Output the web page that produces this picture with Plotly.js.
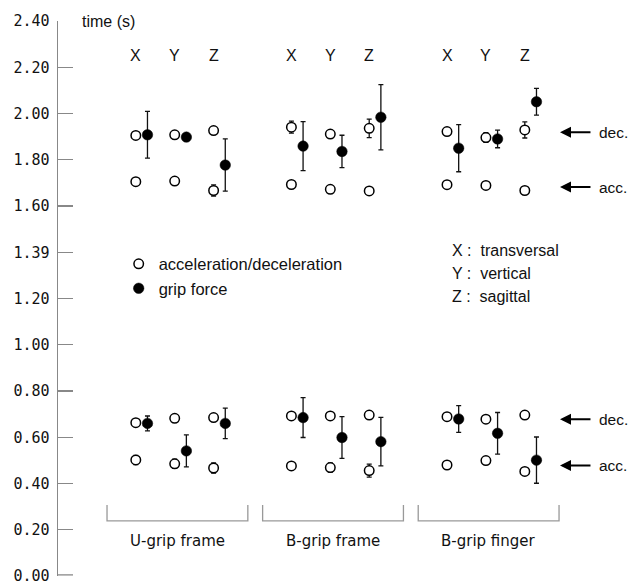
<!DOCTYPE html>
<html>
<head>
<meta charset="utf-8">
<script src="https://cdn.plot.ly/plotly-3.0.1.min.js"></script>
<style>html,body{margin:0;padding:0;background:#fff;}#chart{width:630px;height:585px;}</style>
</head>
<body>
<div id="chart"></div>
<script>
// ---- data ----
const groups = ['U-grip frame', 'B-grip frame', 'B-grip finger'];
const directions = ['X', 'Y', 'Z'];
const directionNames = ['transversal', 'vertical', 'sagittal'];
const yTickVals = [0, 0.2, 0.4, 0.6, 0.8, 1.0, 1.2, 1.4, 1.6, 1.8, 2.0, 2.2, 2.4];
const yTickText = ['0.00', '0.20', '0.40', '0.60', '0.80', '1.00', '1.20', '1.39', '1.60', '1.80', '2.00', '2.20', '2.40'];

// order: U(X,Y,Z), B-frame(X,Y,Z), B-finger(X,Y,Z)
// upper block
const decTop      = [1.905, 1.908, 1.926, 1.941, 1.911, 1.936, 1.922, 1.896, 1.929];
const decTopErr   = [0.014, 0.014, 0.010, 0.026, 0.008, 0.040, 0.006, 0.021, 0.035];
const accTop      = [1.705, 1.708, 1.667, 1.693, 1.672, 1.665, 1.692, 1.689, 1.667];
const accTopErr   = [0.005, 0.005, 0.024, 0.008, 0.010, 0.005, 0.006, 0.005, 0.006];
const gripTop     = [1.908, 1.898, 1.777, 1.859, 1.836, 1.984, 1.850, 1.890, 2.051];
const gripTopErr  = [0.101, 0.012, 0.113, 0.106, 0.070, 0.141, 0.102, 0.038, 0.058];
// lower block
const decBot      = [0.663, 0.682, 0.685, 0.692, 0.692, 0.696, 0.689, 0.678, 0.696];
const decBotErr   = [0.012, 0.005, 0.015, 0.005, 0.005, 0.005, 0.010, 0.005, 0.010];
const accBot      = [0.502, 0.485, 0.467, 0.476, 0.469, 0.456, 0.480, 0.499, 0.452];
const accBotErr   = [0.020, 0.020, 0.022, 0.005, 0.020, 0.028, 0.008, 0.005, 0.005];
const gripBot     = [0.660, 0.541, 0.660, 0.685, 0.599, 0.581, 0.679, 0.617, 0.501];
const gripBotErr  = [0.032, 0.069, 0.066, 0.086, 0.090, 0.105, 0.058, 0.090, 0.100];

// ---- layout helpers ----
const GROUP_STEP = 4, GRIP_OFFSET = 0.3;
const slotX = [];
groups.forEach((g, gi) => directions.forEach((d, di) => slotX.push(gi * GROUP_STEP + di)));
const gripX = slotX.map(v => v + GRIP_OFFSET);

const errStyle = {type: 'data', color: '#111', thickness: 1.3, width: 2.5};

const openTrace = {
  type: 'scatter', mode: 'markers', name: 'acceleration/deceleration',
  x: [].concat(slotX, slotX, slotX, slotX),
  y: [].concat(decTop, accTop, decBot, accBot),
  error_y: Object.assign({array: [].concat(decTopErr, accTopErr, decBotErr, accBotErr)}, errStyle),
  marker: {symbol: 'circle', size: 9.5, color: '#fff', line: {color: '#000', width: 1.5}},
  cliponaxis: false
};
const gripTrace = {
  type: 'scatter', mode: 'markers', name: 'grip force',
  x: [].concat(gripX, gripX),
  y: [].concat(gripTop, gripBot),
  error_y: Object.assign({array: [].concat(gripTopErr, gripBotErr)}, errStyle),
  marker: {symbol: 'circle', size: 10.5, color: '#000', line: {color: '#000', width: 0.5}},
  cliponaxis: false
};

const txtFont = {family: 'Liberation Sans, Arial, sans-serif', size: 16, color: '#111'};
const annotations = [];
// time (s)
annotations.push({xref: 'paper', yref: 'y', x: 0.039, y: 2.40, text: 'time (s)', showarrow: false,
  xanchor: 'left', yanchor: 'middle', font: {family: txtFont.family, size: 16, color: '#111'}});
// direction labels on top
slotX.forEach((xv, i) => annotations.push({xref: 'x', yref: 'y', x: xv, y: 2.249,
  text: directions[i % 3], showarrow: false, font: txtFont}));
// group labels
groups.forEach((g, gi) => annotations.push({xref: 'x', yref: 'y', x: gi * GROUP_STEP + 1.07, y: 0.151,
  text: g, showarrow: false, font: {family: 'DejaVu Sans, sans-serif', size: 15, color: '#111'}}));
// direction key
const keyY = [0.587, 0.545, 0.503];
directions.forEach((d, i) => annotations.push({xref: 'paper', yref: 'paper', x: 0.6975, y: keyY[i],
  text: d + ' :  ' + directionNames[i], showarrow: false, xanchor: 'left', yanchor: 'middle', font: txtFont}));
// arrows dec./acc.
const arrowRows = [[1.919, 'dec.'], [1.682, 'acc.'], [0.678, 'dec.'], [0.478, 'acc.']];
arrowRows.forEach(([yv, t]) => {
  annotations.push({xref: 'paper', yref: 'y', x: 0.8932, y: yv, ax: 32, ay: 0, text: '',
    showarrow: true, arrowhead: 2, arrowsize: 1.1, arrowwidth: 2, arrowcolor: '#000', standoff: 0});
  annotations.push({xref: 'paper', yref: 'y', x: 0.9590, y: yv, text: t, showarrow: false,
    xanchor: 'left', yanchor: 'middle', font: {family: txtFont.family, size: 15.5, color: '#111'}});
});

// brackets under groups
const shapes = groups.map((g, gi) => {
  const x0 = gi * GROUP_STEP - 0.74, x1 = gi * GROUP_STEP + 2.88;
  return {type: 'path', xref: 'x', yref: 'y',
    path: `M ${x0},0.307 L ${x0},0.238 L ${x1},0.238 L ${x1},0.307`,
    line: {color: '#999', width: 1.3}};
});
// bottom tick of the axis (corner at 0.00)
shapes.push({type: 'line', xref: 'paper', yref: 'paper', x0: 0, x1: 15 / 562, y0: 0.002, y1: 0.002,
  line: {color: '#888', width: 1.3}});

const layout = {
  width: 630, height: 585,
  margin: {l: 58, r: 10, t: 21, b: 9},
  paper_bgcolor: '#fff', plot_bgcolor: '#fff',
  showlegend: true,
  legend: {x: 0.108, y: 0.5935, xanchor: 'left', yanchor: 'top', bgcolor: 'rgba(0,0,0,0)',
    font: {family: 'Liberation Sans, Arial, sans-serif', size: 16.5, color: '#111'}},
  xaxis: {range: [-2.0, 12.447], visible: false, fixedrange: true},
  yaxis: {range: [0, 2.4], tickvals: yTickVals, ticktext: yTickText,
    ticks: 'inside', ticklen: 15, tickwidth: 1.2, tickcolor: '#888',
    showline: true, linecolor: '#888', linewidth: 1.5, showgrid: false, zeroline: false,
    ticklabelstandoff: 4, ticklabeloverflow: 'allow',
    tickfont: {family: 'DejaVu Sans Mono, monospace', size: 15, color: '#111'}},
  annotations: annotations,
  shapes: shapes
};

Plotly.newPlot('chart', [openTrace, gripTrace], layout, {staticPlot: true, displayModeBar: false});
</script>
</body>
</html>
